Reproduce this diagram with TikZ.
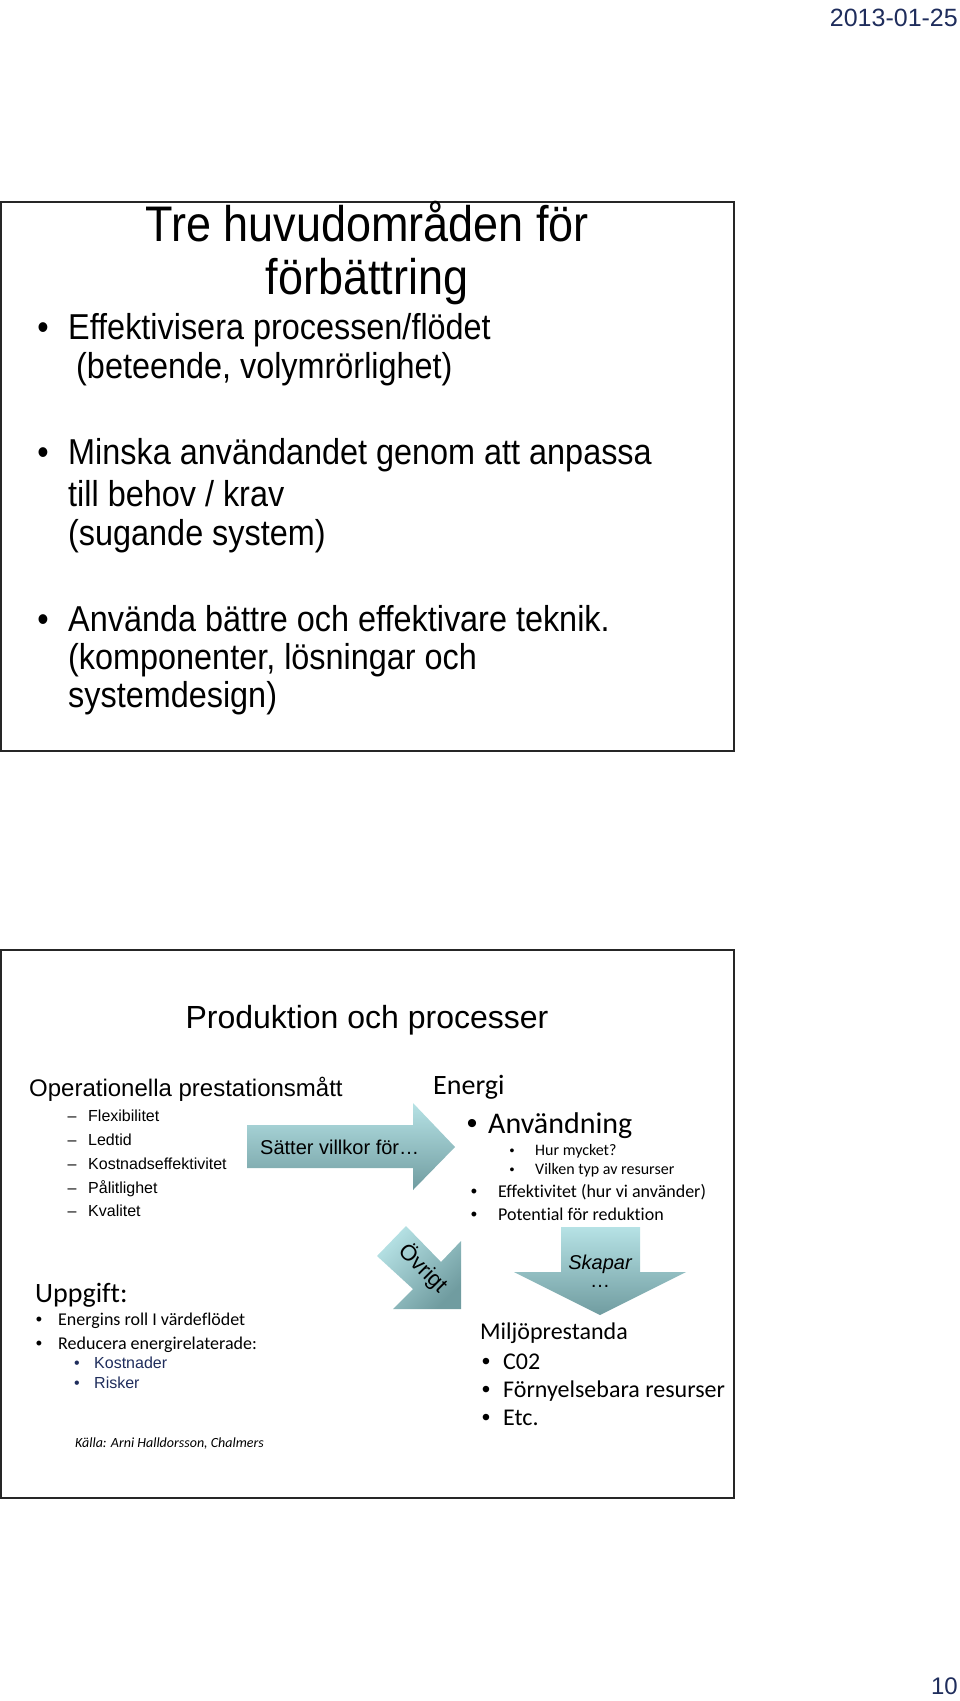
\documentclass[tikz,border=0pt]{standalone}
\usepackage{fontspec}
\setmainfont[Ligatures=NoCommon]{Liberation Sans}
\newfontfamily\narrowfont[FakeStretch=0.9, Ligatures=NoCommon]{Liberation Sans}
\newfontfamily\calfont[Ligatures={NoCommon, NoContextual}]{Carlito}
\usetikzlibrary{positioning}

\definecolor{tealA}{RGB}{182,226,229}
\definecolor{tealB}{RGB}{112,156,160}
\definecolor{navy}{RGB}{31,45,92}
\newcommand{\fsz}[1]{\fontsize{#1}{#1}\selectfont}

\begin{document}
\begin{tikzpicture}[
    x=1pt, y=-1pt,
    line/.style={anchor=base west, inner sep=0pt},
    mid/.style={anchor=base, inner sep=0pt},
    slide/.style={draw=black!85, line width=2pt},
    blockarrow/.style={top color=tealA, bottom color=tealB}
]
\useasboundingbox (0,0) rectangle (960,1701);

\node[anchor=base east, inner sep=0pt, text=navy, font=\fsz{25}] (date) at (958,26) {2013-01-25};
\node[anchor=base east, inner sep=0pt, text=navy, font=\fsz{24}] (page) at (958,1694) {10};

% upper slide
\draw[slide] (1,202) rectangle (734,751);
\node[mid, font=\narrowfont\fsz{50}] (t1) at (367,241) {Tre huvudområden för};
\node[mid, font=\narrowfont\fsz{50}] (t2) at (367,294) {förbättring};

\node[mid, font=\narrowfont\fsz{36}] (b1) at (43,339) {•};
\node[line, font=\narrowfont\fsz{36}] (a1) at (68,339) {Effektivisera processen/flödet};
\node[line, font=\narrowfont\fsz{36}] (a2) at (76,378) {(beteende, volymrörlighet)};
\node[mid, font=\narrowfont\fsz{36}] (b2) at (43,464) {•};
\node[line, font=\narrowfont\fsz{36}] (a3) at (68,464) {Minska användandet genom att anpassa};
\node[line, font=\narrowfont\fsz{36}] (a4) at (68,506) {till behov / krav};
\node[line, font=\narrowfont\fsz{36}] (a5) at (68,545) {(sugande system)};
\node[mid, font=\narrowfont\fsz{36}] (b3) at (43,631) {•};
\node[line, font=\narrowfont\fsz{36}] (a6) at (68,631) {Använda bättre och effektivare teknik.};
\node[line, font=\narrowfont\fsz{36}] (a7) at (68,669) {(komponenter, lösningar och};
\node[line, font=\narrowfont\fsz{36}] (a8) at (68,707) {systemdesign)};

% lower slide
\draw[slide] (1,950) rectangle (734,1498);
\node[mid, font=\fsz{32}] (prod) at (367,1028) {Produktion och processer};

\node[line, font=\fsz{24}] (op) at (29,1096) {Operationella prestationsmått};
\foreach \y/\t [count=\i] in {1121/Flexibilitet, 1145/Ledtid, 1169/Kostnadseffektivitet, 1193/Pålitlighet, 1216/Kvalitet} {
  \node[mid, font=\fsz{16}] (d\i) at (72,\y) {–};
  \node[line, font=\fsz{16}] (m\i) at (88,\y) {\t};
}

\shade[blockarrow] (247,1125) -- (413,1125) -- (413,1103) -- (455,1147)
  -- (413,1190) -- (413,1168) -- (247,1168) -- cycle;
\node[line, font=\fsz{20}] (satter) at (260,1154) {Sätter villkor för…};

\node[line, font=\calfont\fsz{28}] (energi) at (433,1094) {Energi};
\node[mid, font=\fsz{30}] (eb1) at (472,1133) {•};
\node[line, font=\calfont\fsz{30}] (anv) at (488,1133) {Användning};
\node[mid, font=\fsz{14}] (eb2) at (512,1155) {•};
\node[line, font=\calfont\fsz{16}] (hur) at (535,1155) {Hur mycket?};
\node[mid, font=\fsz{14}] (eb3) at (512,1174) {•};
\node[line, font=\calfont\fsz{16}] (typ) at (535,1174) {Vilken typ av resurser};
\node[mid, font=\fsz{18}] (eb4) at (474,1197) {•};
\node[line, font=\calfont\fsz{18}] (eff) at (498,1197) {Effektivitet (hur vi använder)};
\node[mid, font=\fsz{18}] (eb5) at (474,1220) {•};
\node[line, font=\calfont\fsz{18}] (pot) at (498,1220) {Potential för reduktion};

% Övrigt arrow
\shade[top color=tealA, bottom color=tealB, shading angle=45]
  (406,1226) -- (441,1262) -- (461,1241) -- (461,1309) -- (393,1309)
  -- (413,1289) -- (377,1256) -- cycle;
\node[rotate=-45, inner sep=0pt, font=\fsz{22}] (ovrigt) at (423,1268) {Övrigt};

% Skapar arrow
\shade[blockarrow] (561,1227) -- (640,1227) -- (640,1272) -- (686,1272)
  -- (600,1315) -- (514,1272) -- (561,1272) -- cycle;
\node[mid, font=\itshape\fsz{20}] (skapar) at (600,1269) {Skapar};
\node[mid, font=\fsz{20}] (dots) at (600,1287) {…};

\node[line, font=\calfont\fsz{28}] (upp) at (35,1302) {Uppgift:};
\node[mid, font=\fsz{18}] (ub1) at (39,1325) {•};
\node[line, font=\calfont\fsz{18}] (roll) at (58,1325) {Energins roll I värdeflödet};
\node[mid, font=\fsz{18}] (ub2) at (39,1349) {•};
\node[line, font=\calfont\fsz{18}] (red) at (58,1349) {Reducera energirelaterade:};
\node[mid, text=navy, font=\fsz{16}] (ub3) at (77,1368) {•};
\node[line, text=navy, font=\fsz{16}] (kost) at (94,1368) {Kostnader};
\node[mid, text=navy, font=\fsz{16}] (ub4) at (77,1388) {•};
\node[line, text=navy, font=\fsz{16}] (risk) at (94,1388) {Risker};
\node[line, font=\calfont\itshape\fsz{14}] (kalla) at (75,1447) {Källa: Arni Halldorsson, Chalmers};

\node[line, font=\calfont\fsz{24}] (miljo) at (480,1339) {Miljöprestanda};
\foreach \y/\t [count=\i] in {1369/C02, 1397/Förnyelsebara resurser, 1425/Etc.} {
  \node[mid, font=\fsz{24}] (mb\i) at (486,\y) {•};
  \node[line, font=\calfont\fsz{24}] (mt\i) at (503,\y) {\t};
}
\end{tikzpicture}
\end{document}
